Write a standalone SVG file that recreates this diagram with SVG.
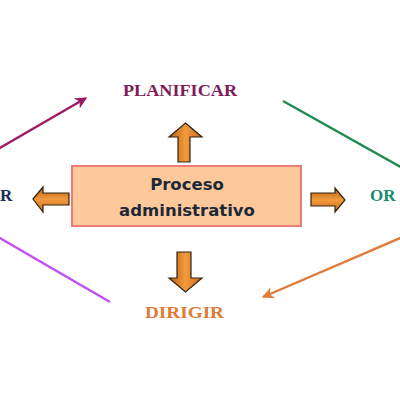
<svg xmlns="http://www.w3.org/2000/svg" width="400" height="400" viewBox="0 0 400 400">
<style>
.lbl{font-family:"Liberation Serif","Times New Roman",serif;font-weight:bold;font-size:17px}
.box{fill:#fdc99b;stroke:#f07c78;stroke-width:2}
.btxt{font-family:"DejaVu Sans",Verdana,sans-serif;font-weight:bold;font-size:16.5px;fill:#1c2838;text-anchor:middle}
.blk{stroke:#2e2414;stroke-width:1.2;stroke-linejoin:miter}
.ln{fill:none;stroke-width:2.4}
</style>
<defs>
<linearGradient id="gv" x1="0" y1="0" x2="1" y2="0">
<stop offset="0" stop-color="#b85f14"/><stop offset="0.5" stop-color="#f29a3c"/><stop offset="1" stop-color="#c96a18"/>
</linearGradient>
<linearGradient id="gh" x1="0" y1="0" x2="0" y2="1">
<stop offset="0" stop-color="#b85f14"/><stop offset="0.5" stop-color="#f29a3c"/><stop offset="1" stop-color="#c96a18"/>
</linearGradient>
<marker id="mP" viewBox="0 0 10 10" refX="9" refY="5" markerWidth="5" markerHeight="5" orient="auto" markerUnits="strokeWidth"><path d="M0,0 L10,5 L0,10 L3,5 z" fill="#9c1c62"/></marker>
<marker id="mO" viewBox="0 0 10 10" refX="9" refY="5" markerWidth="5" markerHeight="5" orient="auto" markerUnits="strokeWidth"><path d="M0,0 L10,5 L0,10 L3,5 z" fill="#e07b39"/></marker>
</defs>
<rect width="400" height="400" fill="#ffffff"/>
<g id="connectors">
<line class="ln" x1="-2" y1="149" x2="86" y2="98" stroke="#9c1c62" marker-end="url(#mP)"/>
<line class="ln" x1="283" y1="101" x2="406" y2="170" stroke="#1e8a52"/>
<line class="ln" x1="405" y1="236" x2="263" y2="297" stroke="#e07b39" marker-end="url(#mO)"/>
<line class="ln" x1="-2" y1="237" x2="110" y2="302" stroke="#c050f0"/>
<path class="blk" fill="url(#gv)" d="M185.5,123 L202,137 L190,137 L190,162 L178,162 L178,137 L169,137 Z"/>
<path class="blk" fill="url(#gv)" d="M177,252 L191,252 L191,278 L202,278 L185.5,292 L169,278 L177,278 Z"/>
<path class="blk" fill="url(#gh)" d="M33,199 L43,187 L43,193 L69,193 L69,205 L43,205 L43,212 Z"/>
<path class="blk" fill="url(#gh)" d="M311,193 L335,193 L335,188 L345,200 L335,212 L335,206 L311,206 Z"/>
</g>
<g id="proceso">
<rect class="box" x="72" y="166" width="229" height="60"/>
<text class="btxt" x="187" y="190">Proceso</text>
<text class="btxt" x="187" y="216">administrativo</text>
</g>
<g id="planificar"><text class="lbl" x="123" y="96" fill="#7e1c5c" textLength="114" lengthAdjust="spacingAndGlyphs">PLANIFICAR</text></g>
<g id="dirigir"><text class="lbl" x="145" y="318" fill="#e07b39" textLength="79" lengthAdjust="spacingAndGlyphs">DIRIGIR</text></g>
<g id="organizar"><text class="lbl" x="370" y="201" fill="#1a8a6e">OR</text></g>
<g id="controlar"><text class="lbl" x="0" y="201" fill="#1c2c58">R</text></g>
</svg>
